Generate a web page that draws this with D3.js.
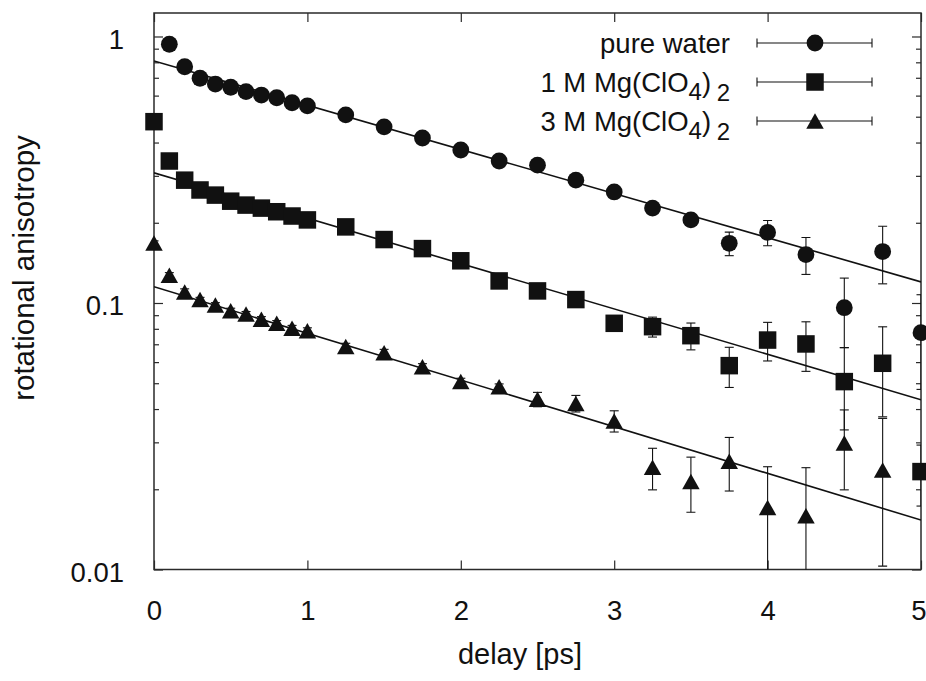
<!DOCTYPE html>
<html>
<head>
<meta charset="utf-8">
<script src="https://cdn.jsdelivr.net/npm/d3@7"></script>
<style>
  body { margin: 0; background: #fff; }
  svg text { font-family: "Liberation Sans", Arial, Helvetica, sans-serif; fill: #111; }
</style>
</head>
<body>
<svg id="chart" width="926" height="681"></svg>
<script>
// Pump-probe delays [ps]
const delays = [0, 0.1, 0.2, 0.3, 0.4, 0.5, 0.6, 0.7, 0.8, 0.9, 1.0,
                1.25, 1.5, 1.75, 2.0, 2.25, 2.5, 2.75, 3.0, 3.25, 3.5,
                3.75, 4.0, 4.25, 4.5, 4.75, 5.0];

// Rotational anisotropy, pure water (no point at t = 0)
const waterR   = [null, 0.935, 0.770, 0.697, 0.663, 0.645, 0.621, 0.603, 0.589, 0.564, 0.549,
                  0.508, 0.458, 0.416, 0.375, 0.341, 0.329, 0.289, 0.261, 0.227, 0.205,
                  0.1675, 0.184, 0.152, 0.096, 0.156, 0.0774];
const waterErr = [null, 0.01, 0.01, 0.01, 0.01, 0.01, 0.01, 0.01, 0.01, 0.01, 0.01,
                  0.01, 0.01, 0.01, 0.01, 0.01, 0.01, 0.01, 0.01, 0.01, 0.01,
                  0.017, 0.020, 0.024, 0.028, 0.038, 0.03];

// 1 M Mg(ClO4)2
const mg1R   = [0.479, 0.341, 0.289, 0.2655, 0.254, 0.241, 0.233, 0.227, 0.220, 0.212, 0.205,
                0.193, 0.173, 0.160, 0.144, 0.121, 0.111, 0.103, 0.0839, 0.0815, 0.0754,
                0.0582, 0.0726, 0.0702, 0.0507, 0.0594, 0.0233];
const mg1Err = [0.008, 0.008, 0.008, 0.008, 0.008, 0.008, 0.008, 0.008, 0.008, 0.008, 0.008,
                0.006, 0.006, 0.005, 0.005, 0.004, 0.004, 0.004, 0.003, 0.007, 0.0087,
                0.010, 0.012, 0.0148, 0.0173, 0.022, 0.006];

// 3 M Mg(ClO4)2 (no point at t = 5)
const mg3R   = [0.168, 0.127, 0.110, 0.103, 0.0983, 0.0936, 0.0909, 0.0869, 0.0839, 0.0804, 0.0787,
                0.0686, 0.065, 0.0577, 0.0507, 0.0485, 0.0435, 0.0420, 0.0361, 0.0242, 0.0214,
                0.0255, 0.0171, 0.0159, 0.0298, 0.0236, null];
const mg3Err = [0.003, 0.003, 0.003, 0.002, 0.002, 0.002, 0.002, 0.002, 0.002, 0.002, 0.002,
                0.002, 0.002, 0.0015, 0.0015, 0.0012, 0.0027, 0.003, 0.0033, 0.0043, 0.005,
                0.0058, 0.0072, 0.0082, 0.0099, 0.0133, null];

// Single-exponential fits r(t) = A exp(-t / tau)
const fitAmp = [0.809, 0.308, 0.1151];
const fitTau = [2.62, 2.55, 2.48];

const seriesNames = ["pure water", "1 M Mg(ClO4)2", "3 M Mg(ClO4)2"];
const seriesShapes = ["circle", "square", "triangle"];

const xTicks = [0, 1, 2, 3, 4, 5];
const yTicks = [1, 0.1, 0.01];
const yTickLabels = ["1", "0.1", "0.01"];
const yMinor = [0.02, 0.03, 0.04, 0.05, 0.06, 0.07, 0.08, 0.09,
                0.2, 0.3, 0.4, 0.5, 0.6, 0.7, 0.8, 0.9];

const values = [waterR, mg1R, mg3R];
const errors = [waterErr, mg1Err, mg3Err];

// ---------------------------------------------------------------
const svg = d3.select("#chart");
const plotL = 154, plotR = 921, plotT = 13, plotB = 569.5;

const x = d3.scaleLinear().domain([0, 5]).range([plotL, plotR]);
const y = d3.scaleLog().domain([0.01, 1.225]).range([plotB, plotT]);

const ink = "#111";
const frameColor = "#2a2a2a";
const labelSize = 27.5;

svg.append("defs").append("clipPath").attr("id", "plotArea")
  .append("rect").attr("x", plotL).attr("y", plotT)
  .attr("width", plotR - plotL).attr("height", plotB - plotT);

// Axes (ticks point inward, mirrored on top/right)
function styleAxis(g) {
  g.select(".domain").remove();
  g.selectAll(".tick line").attr("stroke", frameColor).attr("stroke-width", 1.2);
  g.selectAll(".tick text").attr("font-size", labelSize).attr("fill", ink);
}

const xAxisB = svg.append("g").attr("transform", `translate(0,${plotB})`)
  .call(d3.axisBottom(x).tickValues(xTicks).tickSize(-9).tickPadding(31).tickFormat(d3.format("d")))
  .call(styleAxis);
// keep the last label inside the page edge
xAxisB.selectAll(".tick text").filter(d => d === 5).attr("text-anchor", "end").attr("x", 5);

svg.append("g").attr("transform", `translate(0,${plotT})`)
  .call(d3.axisTop(x).tickValues(xTicks).tickSize(-9).tickFormat(""))
  .call(styleAxis);

const yAxisL = svg.append("g").attr("transform", `translate(${plotL},0)`)
  .call(d3.axisLeft(y).tickValues(yTicks).tickSize(-9).tickPadding(30)
        .tickFormat((d, i) => yTickLabels[i]))
  .call(styleAxis);
yAxisL.selectAll(".tick text").attr("dy", null).attr("y", 12);

svg.append("g").attr("transform", `translate(${plotL},0)`)
  .call(d3.axisLeft(y).tickValues(yMinor).tickSize(-5).tickFormat(""))
  .call(styleAxis);

svg.append("g").attr("transform", `translate(${plotR},0)`)
  .call(d3.axisRight(y).tickValues(yTicks).tickSize(-9).tickFormat(""))
  .call(styleAxis);
svg.append("g").attr("transform", `translate(${plotR},0)`)
  .call(d3.axisRight(y).tickValues(yMinor).tickSize(-5).tickFormat(""))
  .call(styleAxis);

// Frame
svg.append("rect")
  .attr("x", plotL).attr("y", plotT)
  .attr("width", plotR - plotL).attr("height", plotB - plotT)
  .attr("fill", "none").attr("stroke", frameColor).attr("stroke-width", 1.5);

// Axis titles
svg.append("text")
  .attr("x", 520).attr("y", 664)
  .attr("text-anchor", "middle").attr("font-size", 29)
  .text("delay [ps]");

svg.append("text")
  .attr("transform", "translate(34,268) rotate(-90)")
  .attr("text-anchor", "middle").attr("font-size", 29.5)
  .text("rotational anisotropy");

// Fit lines
const fitLine = d3.line().x(d => x(d[0])).y(d => y(d[1]));
fitAmp.forEach((A, i) => {
  const pts = x.domain().map(t => [t, A * Math.exp(-t / fitTau[i])]);
  svg.append("path")
    .attr("clip-path", "url(#plotArea)")
    .attr("d", fitLine(pts))
    .attr("fill", "none").attr("stroke", ink).attr("stroke-width", 1.6);
});

// Marker drawing
function marker(g, shape, cx, cy) {
  if (shape === "circle") {
    g.append("circle").attr("cx", cx).attr("cy", cy).attr("r", 8.4).attr("fill", ink);
  } else if (shape === "square") {
    const s = 17.5;
    g.append("rect").attr("x", cx - s / 2).attr("y", cy - s / 2)
      .attr("width", s).attr("height", s).attr("fill", ink);
  } else {
    const w = 17.5, h = 15.5;
    g.append("path")
      .attr("d", `M${cx},${cy - h / 2}L${cx + w / 2},${cy + h / 2}L${cx - w / 2},${cy + h / 2}Z`)
      .attr("fill", ink);
  }
}

// Error bars and points
const capHalf = 4.5;
values.forEach((vals, si) => {
  const data = delays.map((t, i) => ({ t, v: vals[i], e: errors[si][i] }))
    .filter(d => d.v != null);

  const eg = svg.append("g").attr("clip-path", "url(#plotArea)")
    .attr("stroke", ink).attr("stroke-width", 1.1);
  data.forEach(d => {
    const lo = d.v - d.e, hi = d.v + d.e;
    const px = x(d.t);
    const yLo = lo > 0 ? y(lo) : plotB + 50;
    const yHi = y(hi);
    eg.append("line").attr("x1", px).attr("x2", px).attr("y1", yHi).attr("y2", yLo);
    eg.append("line").attr("x1", px - capHalf).attr("x2", px + capHalf).attr("y1", yHi).attr("y2", yHi);
    if (lo > 0) eg.append("line").attr("x1", px - capHalf).attr("x2", px + capHalf).attr("y1", yLo).attr("y2", yLo);
  });

  const mg = svg.append("g");
  data.forEach(d => marker(mg, seriesShapes[si], x(d.t), y(d.v)));
});

// Legend
const legendRows = [43, 82, 121];
const legendTextX = 730, sampleX0 = 757, sampleX1 = 872, sampleMid = 815;
seriesNames.forEach((name, i) => {
  const ly = legendRows[i];
  const txt = svg.append("text")
    .attr("x", legendTextX).attr("y", ly + 10)
    .attr("text-anchor", "end").attr("font-size", 27.5);
  const m = name.match(/^(.*\(ClO)(\d)\)(\d)$/);
  if (m) {
    txt.append("tspan").text(m[1]);
    txt.append("tspan").attr("font-size", 24).attr("dy", 8).text(m[2]);
    txt.append("tspan").attr("dy", -8).text(")\u2009");
    txt.append("tspan").attr("font-size", 24).attr("dy", 9).text(m[3]);
  } else {
    txt.text(name);
  }
  const lg = svg.append("g").attr("stroke", ink).attr("stroke-width", 1.1);
  lg.append("line").attr("x1", sampleX0).attr("x2", sampleX1).attr("y1", ly).attr("y2", ly);
  lg.append("line").attr("x1", sampleX0).attr("x2", sampleX0).attr("y1", ly - capHalf).attr("y2", ly + capHalf);
  lg.append("line").attr("x1", sampleX1).attr("x2", sampleX1).attr("y1", ly - capHalf).attr("y2", ly + capHalf);
  marker(svg, seriesShapes[i], sampleMid, ly);
});
</script>
</body>
</html>
